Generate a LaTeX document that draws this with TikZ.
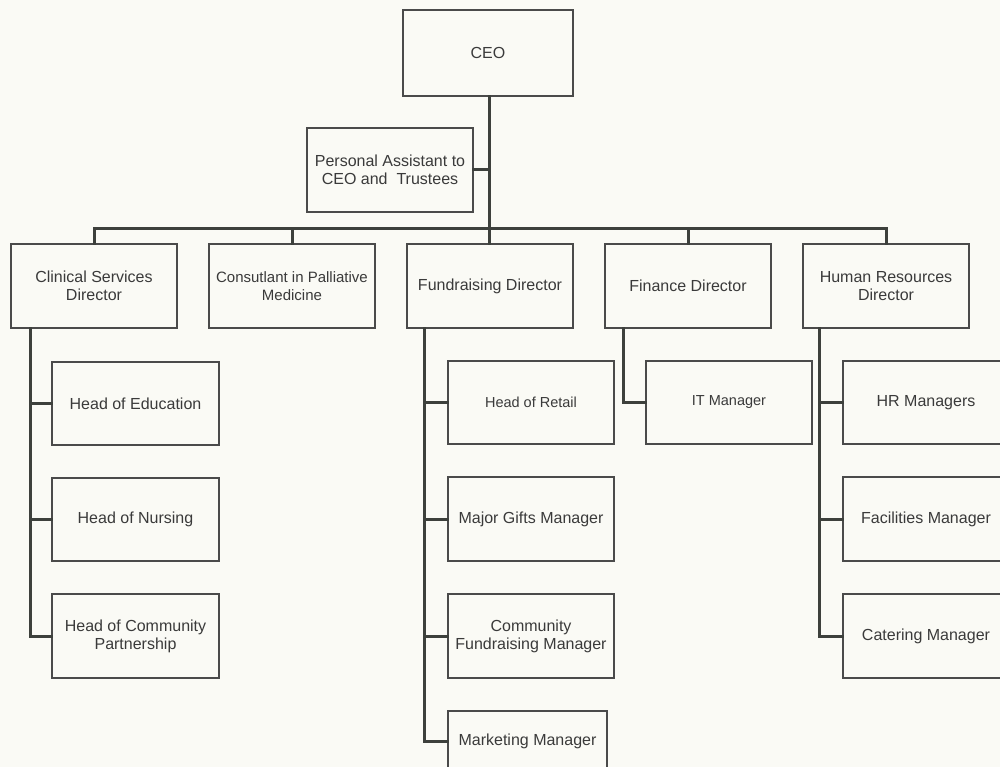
\documentclass[tikz,border=0pt]{standalone}
\usepackage{fontspec}
\setmainfont{Liberation Sans}
\definecolor{bg}{HTML}{FAFAF5}
\definecolor{conn}{HTML}{3D403C}
\definecolor{edge}{HTML}{4A4A4A}
\definecolor{txt}{HTML}{3A3A3A}
\begin{document}
\begin{tikzpicture}[x=1pt,y=-1pt,
  box/.style={draw=edge,line width=1.6pt,fill=bg,inner sep=0pt,align=center,
    text=txt,minimum width=166pt,minimum height=84pt,
    font=\fontsize{16}{18}\selectfont},
  smallbox/.style={box,font=\fontsize{14.5}{17}\selectfont},
  link/.style={draw=conn,line width=3pt,line cap=rect}]
\fill[bg] (0,0) rectangle (1000,767);
\useasboundingbox (0,0) rectangle (1000,767);
\clip (0,0) rectangle (1000,767);

% top
\node[box,minimum width=170pt,minimum height=86pt] (ceo) at (488,53) {CEO};
\node[box] (pa) at (390,170) {Personal Assistant to\\CEO and\ \ Trustees};

% directors
\node[box] (csd) at (94,286) {Clinical Services\\Director};
\node[box,font=\fontsize{15}{18}\selectfont] (cons) at (292,286) {Consutlant in Palliative\\Medicine};
\node[box] (fund) at (490,286) {Fundraising Director};
\node[box] (fin) at (688,286) {Finance Director};
\node[box] (hrd) at (886,286) {Human Resources\\Director};

% clinical children
\node[box,minimum width=167pt,minimum height=83pt] (edu) at (135.5,403.5) {Head of Education};
\node[box,minimum width=167pt,minimum height=83pt] (nurs) at (135.5,519.5) {Head of Nursing};
\node[box,minimum width=167pt,minimum height=84pt] (comm) at (135.5,636) {Head of Community\\Partnership};

% fundraising children
\node[smallbox,minimum height=83pt] (retail) at (531,402.5) {Head of Retail};
\node[box] (gifts) at (531,519) {Major Gifts Manager};
\node[box] (cfm) at (531,636) {Community\\Fundraising Manager};
\node[box,minimum width=159pt,minimum height=60pt] (mkt) at (527.5,741) {Marketing Manager};

% finance child
\node[smallbox,minimum height=83pt] (it) at (729,402.5) {IT Manager};

% HR children
\node[box,minimum height=83pt] (hrm) at (926,402.5) {HR Managers};
\node[box] (fac) at (926,519) {Facilities Manager};
\node[box] (cat) at (926,636) {Catering Manager};

% spines / helper coordinates
\coordinate (bus) at (489,229);
\coordinate (cspine) at (30,328);
\coordinate (fspine) at (424,328);
\coordinate (finspine) at (623,328);
\coordinate (hspine) at (819,328);

% connectors from top
\draw[link] (ceo.south -| bus) -- (bus);
\draw[link] (pa.east) -- (pa.east -| bus);
\draw[link] (csd.north) |- (bus) -| (hrd.north);
\draw[link] (cons.north) -- (cons.north |- bus);
\draw[link] (fund.north -| bus) -- (bus);
\draw[link] (fin.north) -- (fin.north |- bus);

% clinical
\draw[link] (cspine) |- (comm.west);
\draw[link] (edu.west) -- (edu.west -| cspine);
\draw[link] (nurs.west) -- (nurs.west -| cspine);

% fundraising
\draw[link] (fspine) |- (mkt.west);
\draw[link] (retail.west) -- (retail.west -| fspine);
\draw[link] (gifts.west) -- (gifts.west -| fspine);
\draw[link] (cfm.west) -- (cfm.west -| fspine);

% finance
\draw[link] (finspine) |- (it.west);

% HR
\draw[link] (hspine) |- (cat.west);
\draw[link] (hrm.west) -- (hrm.west -| hspine);
\draw[link] (fac.west) -- (fac.west -| hspine);
\end{tikzpicture}
\end{document}
